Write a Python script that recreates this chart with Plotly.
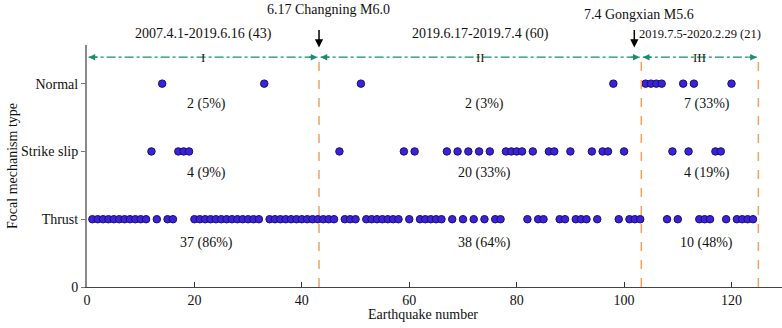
import plotly.graph_objects as go

# ---- data ----
normal_eq = [14, 33, 51, 98, 104, 105, 106, 107, 111, 113, 120]
strike_eq = [12, 17, 18, 19, 47, 59, 61, 67, 69, 71, 73, 75, 78, 79, 80, 81, 83,
             86, 87, 90, 94, 96, 97, 100, 109, 112, 117, 118]
thrust_eq = ([n for n in range(1, 44) if n not in (12, 14, 17, 18, 19, 33)] +
             [44, 45, 46, 48, 49, 50, 52, 53, 54, 55, 56, 57, 58, 60, 62, 63, 64, 65,
              66, 68, 70, 72, 74, 76, 77, 82, 84, 85, 88, 89, 91, 92, 93, 95, 99,
              101, 102, 103] +
             [108, 110, 114, 115, 116, 119, 121, 122, 123, 124])

type_values = [0, 1, 2, 3]
type_labels = ["0", "Thrust", "Strike slip", "Normal"]
x_ticks = [0, 20, 40, 60, 80, 100, 120]

boundaries = [0, 43.2, 103.2, 125]
period_labels = ["2007.4.1-2019.6.16 (43)", "2019.6.17-2019.7.4 (60)", "2019.7.5-2020.2.29 (21)"]
roman = ["I", "II", "III"]
count_normal = ["2 (5%)", "2 (3%)", "7 (33%)"]
count_strike = ["4 (9%)", "20 (33%)", "4 (19%)"]
count_thrust = ["37 (86%)", "38 (64%)", "10 (48%)"]
event_labels = ["6.17 Changning M6.0", "7.4 Gongxian M5.6"]
event_x = [43.2, 101.9]

FONT = "Liberation Serif, Times New Roman, serif"
MARK = dict(size=7.5, color="#3a22d8", line=dict(color="#1a1070", width=1))
GREEN = "#1f8c6c"
ORANGE = "#f4a25c"
TXT = "#111"
C = dict(xanchor="center", yanchor="middle")

fig = go.Figure()
for xs, yv in [(thrust_eq, 1), (strike_eq, 2), (normal_eq, 3)]:
    fig.add_trace(go.Scatter(x=xs, y=[yv] * len(xs), mode="markers", marker=MARK,
                             showlegend=False, cliponaxis=False, hoverinfo="skip"))

shapes = []
annotations = []
line_y = 3.39
for b in boundaries[1:]:
    shapes.append(dict(type="line", x0=b, x1=b, y0=0, y1=line_y, xref="x", yref="y",
                       line=dict(color=ORANGE, width=1.5, dash="dash")))
count_x = [22.3, 74.1, 115.4]
period_font = [14, 14, 12.5]
for i in range(3):
    x0, x1 = boundaries[i], boundaries[i + 1]
    shapes.append(dict(type="line", x0=x0 + 0.3, x1=x1 - 0.3, y0=line_y, y1=line_y,
                       xref="x", yref="y", line=dict(color=GREEN, width=1.2, dash="dashdot")))
    for xe, ax in [(x0 + 0.3, 10), (x1 - 0.3, -10)]:
        annotations.append(dict(x=xe, y=line_y, xref="x", yref="y", ax=ax, ay=0,
                                text="", showarrow=True, arrowhead=2, arrowsize=1.1,
                                arrowwidth=1.2, arrowcolor=GREEN, standoff=0))
    xm = (x0 + x1) / 2
    annotations.append(dict(x=xm, y=line_y, xref="x", yref="y", text=roman[i], **C,
                            showarrow=False, font=dict(family=FONT, size=13, color="#222")))
    annotations.append(dict(x=xm, y=1.045, xref="x", yref="paper", text=period_labels[i], **C,
                            showarrow=False,
                            font=dict(family=FONT, size=period_font[i], color=TXT)))
    for txt, yy in [(count_normal[i], 2.70), (count_strike[i], 1.68), (count_thrust[i], 0.65)]:
        annotations.append(dict(x=count_x[i], y=yy, xref="x", yref="y", text=txt, **C,
                                showarrow=False, font=dict(family=FONT, size=14, color=TXT)))

for xe in event_x:
    annotations.append(dict(x=xe, y=0.99, xref="x", yref="paper", ax=0, ay=-19, text="",
                            showarrow=True, arrowhead=2, arrowsize=1.1, arrowwidth=1.5,
                            arrowcolor="#000", standoff=0))
annotations.append(dict(x=45.0, y=1.145, xref="x", yref="paper", text=event_labels[0], **C,
                        showarrow=False, font=dict(family=FONT, size=14, color=TXT)))
annotations.append(dict(x=102.7, y=1.124, xref="x", yref="paper", text=event_labels[1], **C,
                        showarrow=False, font=dict(family=FONT, size=14, color=TXT)))
# axis titles
annotations.append(dict(x=0.483, y=-0.112, xref="paper", yref="paper", text="Earthquake number",
                        **C, showarrow=False, font=dict(family=FONT, size=14, color=TXT)))
annotations.append(dict(x=-0.108, y=0.5, xref="paper", yref="paper", text="Focal mechanism type",
                        **C, textangle=-90, showarrow=False,
                        font=dict(family=FONT, size=14, color=TXT)))

fig.update_layout(
    width=782, height=328,
    margin=dict(l=87, r=0, t=45, b=41),
    plot_bgcolor="white", paper_bgcolor="white",
    shapes=shapes, annotations=annotations,
    font=dict(family=FONT, size=14, color=TXT),
    hovermode=False,
    xaxis=dict(range=[0, 129.4], tickvals=x_ticks, ticks="inside", ticklen=5,
               tickcolor="#333", showline=True, linecolor="#444", linewidth=1,
               showgrid=False, zeroline=False, tickfont=dict(family=FONT, size=14),
               automargin=False),
    yaxis=dict(range=[0, 3.57], tickvals=type_values, ticktext=type_labels,
               ticks="outside", ticklen=4, tickcolor="#777", showline=True,
               linecolor="#8a8a8a", linewidth=2, showgrid=False, zeroline=False,
               tickfont=dict(family=FONT, size=14), automargin=False),
)
fig.write_html("out.html", config={"displayModeBar": False},
               post_script="document.body.style.margin='0px';"
                           "document.body.style.overflow='hidden';")
